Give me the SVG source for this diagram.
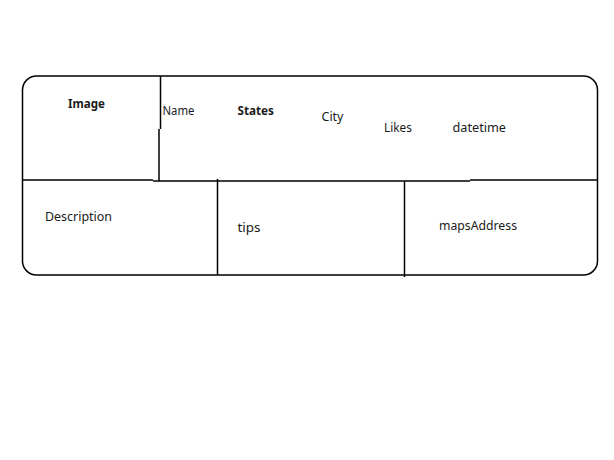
<svg xmlns="http://www.w3.org/2000/svg" width="614" height="460" viewBox="0 0 614 460">
<style>
.ln{fill:none;stroke:#000;stroke-width:1.5}
.t{font-family:"Noto Sans","Open Sans","DejaVu Sans",sans-serif;font-size:13px;fill:#1a1a1a}
.b{font-weight:bold}
</style>
<rect width="614" height="460" fill="#fff"/>
<g id="connectors">
<rect class="ln" x="22.5" y="76" width="575" height="199" rx="14" ry="14"/>
<path class="ln" d="M22 180 H153 M153 181 H470 M470 180 H597"/>
<path class="ln" d="M160.5 76 V129 M159 129 V181"/>
<path class="ln" d="M217.5 179 V275"/>
<path class="ln" d="M404.5 181 V277"/>
</g>
<g id="image"><text class="t b" x="68" y="108" textLength="37" lengthAdjust="spacingAndGlyphs">Image</text></g>
<g id="name"><text class="t" x="162.5" y="115" textLength="32" lengthAdjust="spacingAndGlyphs">Name</text></g>
<g id="states"><text class="t b" x="237.5" y="115" textLength="36.5" lengthAdjust="spacingAndGlyphs">States</text></g>
<g id="city"><text class="t" x="321.5" y="121" textLength="22" lengthAdjust="spacingAndGlyphs">City</text></g>
<g id="likes"><text class="t" x="384" y="131.5" textLength="28" lengthAdjust="spacingAndGlyphs">Likes</text></g>
<g id="datetime"><text class="t" x="452.5" y="131.5" textLength="53.5" lengthAdjust="spacingAndGlyphs">datetime</text></g>
<g id="description"><text class="t" x="45" y="220.5" textLength="67" lengthAdjust="spacingAndGlyphs">Description</text></g>
<g id="tips"><text class="t" x="237.5" y="232" textLength="23" lengthAdjust="spacingAndGlyphs">tips</text></g>
<g id="mapsAddress"><text class="t" x="439" y="230" textLength="78" lengthAdjust="spacingAndGlyphs">mapsAddress</text></g>
</svg>
